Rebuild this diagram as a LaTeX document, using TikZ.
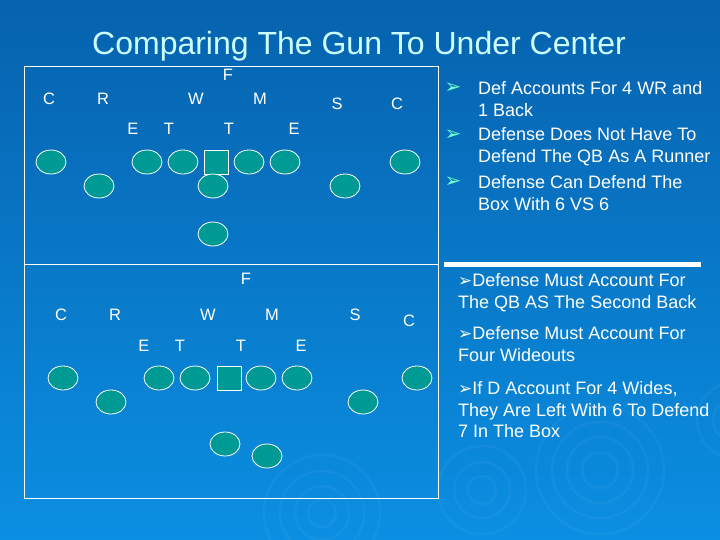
\documentclass[tikz,border=0pt]{standalone}
\usepackage{fontspec}
\setmainfont{Liberation Sans}
\newfontfamily\dingfont{DejaVu Sans}
\usetikzlibrary{shapes.geometric,positioning}
\definecolor{slidetop}{HTML}{0662AE}
\definecolor{slidemid}{HTML}{0769B5}
\definecolor{slidebot}{HTML}{0B8FE2}
\definecolor{player}{HTML}{009A95}
\definecolor{titlecyan}{HTML}{CCFFFF}
\definecolor{bulletgreen}{HTML}{70FFCC}

\begin{document}
\begin{tikzpicture}[x=1pt, y=-1pt,
    defl/.style={text=white, font=\fontsize{16.5}{16.5}\selectfont, inner sep=0pt},
    offp/.style={ellipse, draw=white, line width=0.8pt, fill=player, minimum width=30pt, minimum height=24pt, inner sep=0pt},
    snapper/.style={rectangle, draw=white, line width=0.8pt, fill=player, minimum size=24pt, inner sep=0pt},
    notetxt/.style={text=white, font=\fontsize{18}{21.5}\selectfont, align=left, anchor=north west, inner sep=0pt},
    topbullet/.style={text=bulletgreen, font=\dingfont\fontsize{20}{20}\selectfont, inner sep=0pt},
    ripple/.style={draw=white, opacity=0.04, line width=2.5pt}
  ]
  \useasboundingbox (0,0) rectangle (720,540);
  \shade[top color=slidetop, middle color=slidemid, bottom color=slidebot] (0,0) rectangle (720,540);

  % water rings
  \draw[ripple] (322,513) circle[radius=14pt] circle[radius=27pt] circle[radius=42pt] circle[radius=58pt];
  \draw[ripple] (482,490) circle[radius=14pt] circle[radius=28pt] circle[radius=44pt];
  \draw[ripple] (600,470) circle[radius=18pt] circle[radius=33pt] circle[radius=48pt] circle[radius=64pt];
  \draw[ripple] (735,420) circle[radius=22pt] circle[radius=38pt];

  \node[text=titlecyan, font=\fontsize{32}{32}\selectfont, anchor=base] (title) at (359,55) {Comparing The Gun To Under Center};

  % frames
  \draw[white, line width=0.8pt] (24,66) rectangle (438,498);
  \draw[white, line width=0.8pt] (24,264) -- (438,264);
  \fill[white] (444,262) rectangle (701,267);

  % under center: defense
  \node[defl] (ucF) at (228,75) {F};
  \node[defl] (ucCl) at (49,99) {C};
  \node[defl] (ucR) at (103,99) {R};
  \node[defl] (ucW) at (196,99) {W};
  \node[defl] (ucM) at (260,99) {M};
  \node[defl] (ucS) at (337,104) {S};
  \node[defl] (ucCr) at (397,104) {C};
  \node[defl] (ucEl) at (133,129) {E};
  \node[defl] (ucTl) at (169,129) {T};
  \node[defl] (ucTr) at (229,129) {T};
  \node[defl] (ucEr) at (294,129) {E};

  % under center: offense
  \node[offp] (ucX) at (51,162) {};
  \node[offp] (ucLT) at (147,162) {};
  \node[offp] (ucLG) at (183,162) {};
  \node[snapper] (ucCtr) at (216.5,162) {};
  \node[offp] (ucRG) at (249,162) {};
  \node[offp] (ucRT) at (285,162) {};
  \node[offp] (ucZ) at (405,162) {};
  \node[offp] (ucSl) at (99,186) {};
  \node[offp] (ucQB) at (213,186) {};
  \node[offp] (ucSr) at (345,186) {};
  \node[offp] (ucRB) at (213,234) {};

  % gun: defense
  \node[defl] (gnF) at (246,279) {F};
  \node[defl] (gnCl) at (61,315) {C};
  \node[defl] (gnR) at (115,315) {R};
  \node[defl] (gnW) at (208,315) {W};
  \node[defl] (gnM) at (272,315) {M};
  \node[defl] (gnS) at (355,315) {S};
  \node[defl] (gnCr) at (409,321) {C};
  \node[defl] (gnEl) at (144,346) {E};
  \node[defl] (gnTl) at (180,346) {T};
  \node[defl] (gnTr) at (241,346) {T};
  \node[defl] (gnEr) at (301,346) {E};

  % gun: offense
  \node[offp] (gnX) at (63,378) {};
  \node[offp] (gnLT) at (159,378) {};
  \node[offp] (gnLG) at (195,378) {};
  \node[snapper] (gnCtr) at (229,378) {};
  \node[offp] (gnRG) at (261,378) {};
  \node[offp] (gnRT) at (297,378) {};
  \node[offp] (gnZ) at (417,378) {};
  \node[offp] (gnSl) at (111,402) {};
  \node[offp] (gnSr) at (363,402) {};
  \node[offp] (gnQB) at (225,444) {};
  \node[offp] (gnRB) at (267,456) {};

  % notes
  \node[topbullet] (ba) at (453,88) {➢};
  \node[topbullet] (bb) at (453,135) {➢};
  \node[topbullet] (bc) at (453,182) {➢};
  \node[notetxt] (na) at (478,81.3) {Def Accounts For 4 WR and\\1 Back};
  \node[notetxt] (nb) at (478,127.3) {Defense Does Not Have To\\Defend The QB As A Runner};
  \node[notetxt] (nc) at (478,175.3) {Defense Can Defend The\\Box With 6 VS 6};

  \node[notetxt] (nd) at (458,273.3) {{\dingfont\fontsize{17}{17}\selectfont ➢}Defense Must Account For\\The QB AS The Second Back};
  \node[notetxt] (ne) at (458,326.3) {{\dingfont\fontsize{17}{17}\selectfont ➢}Defense Must Account For\\Four Wideouts};
  \node[notetxt] (nf) at (458,381.3) {{\dingfont\fontsize{17}{17}\selectfont ➢}If D Account For 4 Wides,\\They Are Left With 6 To Defend\\7 In The Box};
\end{tikzpicture}
\end{document}
